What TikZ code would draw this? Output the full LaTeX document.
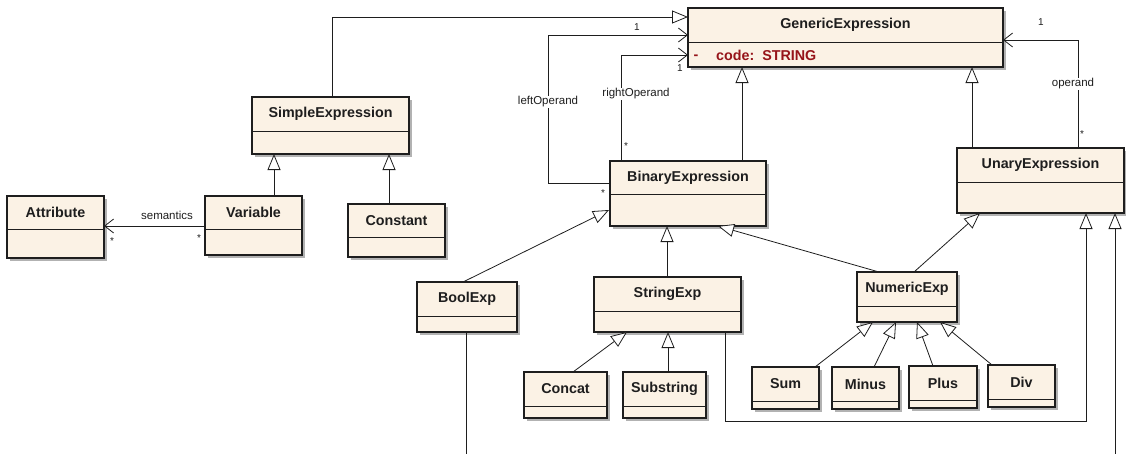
\documentclass[tikz,border=0pt]{standalone}
\usepackage{fontspec}
\setmainfont{Liberation Sans}
\usetikzlibrary{arrows.meta}

\definecolor{classfill}{RGB}{251,242,229}
\definecolor{shadowgray}{RGB}{178,178,178}
\definecolor{attrred}{RGB}{150,20,25}
\definecolor{ink}{RGB}{30,30,30}

\tikzset{
  classbox/.style={draw=ink, fill=classfill, line width=1.1pt, inner sep=0pt, outer sep=0pt},
  classname/.style={font=\fontsize{14.3}{17}\selectfont\bfseries, text=ink, inner sep=0pt},
  attrtext/.style={font=\fontsize{14.3}{17}\selectfont\bfseries, text=attrred, inner sep=0pt},
  divider/.style={draw=ink, line width=0.9pt},
  boxshadow/.style={fill=shadowgray},
  conn/.style={draw=ink, line width=0.8pt},
  gen/.style={conn, -{Triangle[open, length=16pt, width=13pt, fill=white]}},
  assoc/.style={conn, -{Straight Barb[length=9pt, width=14pt]}},
  role/.style={font=\fontsize{11.5}{13}\selectfont, text=ink, inner sep=1pt, fill=white},
  mult/.style={font=\fontsize{10}{11}\selectfont, text=ink, inner sep=0pt},
}

% class box: name, label, left, top, right, divider, bottom
\newcommand\umlclass[7]{%
  \fill[boxshadow] (#3+3,#4+3) rectangle (#5+3,#7+3);
  \node[classbox, anchor=north west, minimum width={#5-#3}, minimum height={#7-#4}] (#1) at (#3,#4) {};
  \draw[divider] (#3,#6) -- (#5,#6);
  \node[classname] (#1-name) at ({(#3+#5)/2},{(#4+#6)/2}) {#2};
}

\begin{document}
\begin{tikzpicture}[x=1pt, y=-1pt]
  \useasboundingbox (0,0) rectangle (1126,453);
  \clip (0,0) rectangle (1126,453);

  % classes
  \umlclass{GE}{GenericExpression}{688}{8}{1003}{42}{67}
  \umlclass{SE}{SimpleExpression}{252}{97}{409}{131}{154}
  \umlclass{Var}{Variable}{205}{196}{302}{229}{255}
  \umlclass{Const}{Constant}{348}{204}{445}{237}{257}
  \umlclass{Attr}{Attribute}{7}{196}{104}{229}{258}
  \umlclass{BE}{BinaryExpression}{610}{161}{766}{194}{226}
  \umlclass{UE}{UnaryExpression}{957}{148}{1124}{182}{213}
  \umlclass{Bool}{BoolExp}{417}{282}{517}{316}{332}
  \umlclass{Str}{StringExp}{594}{277}{741}{311}{332}
  \umlclass{Num}{NumericExp}{857}{272}{957}{306}{322}
  \umlclass{Concat}{Concat}{524}{372}{607}{406}{418}
  \umlclass{Sub}{Substring}{623}{372}{706}{406}{418}
  \umlclass{Sum}{Sum}{752}{367}{819}{401}{409}
  \umlclass{Minus}{Minus}{832}{367}{899}{401}{409}
  \umlclass{Plus}{Plus}{909}{366}{977}{400}{408}
  \umlclass{Div}{Div}{988}{365}{1055}{399}{407}

  % attribute of GenericExpression
  \node[attrtext] (GE-dash) at (696,57) {-};
  \node[attrtext, anchor=west] (GE-code) at (716,55) {code:\ \ STRING};

  % generalizations towards GenericExpression
  \draw[gen] (332,0 |- SE.north) |- (GE.west |- 0,17);
  \draw[gen] (742,0 |- BE.north) -- (742,0 |- GE.south);
  \draw[gen] (972,0 |- UE.north) -- (972,0 |- GE.south);

  % self associations of the expressions
  \draw[assoc] (BE.west |- 0,183) -| (548,35) -- (GE.west |- 0,35);
  \node[role] (lo) at (548,102) {leftOperand};
  \node[mult] (lo-one) at (637,27) {1};
  \node[mult] (lo-many) at (603,193) {*};

  \draw[assoc] (621,0 |- BE.north) |- (GE.west |- 0,55);
  \node[role] (ro) at (636,94) {rightOperand};
  \node[mult] (ro-one) at (680,68) {1};
  \node[mult] (ro-many) at (626,146) {*};

  \draw[assoc] (1078,0 |- UE.north) |- (GE.east |- 0,40);
  \node[role] (op) at (1073,84) {operand};
  \node[mult] (op-one) at (1041,22) {1};
  \node[mult] (op-many) at (1082,134) {*};

  % simple expressions
  \draw[gen] (274,0 |- Var.north) -- (274,0 |- SE.south);
  \draw[gen] (389,0 |- Const.north) -- (389,0 |- SE.south);
  \draw[assoc] (Var.west |- 0,226) -- (Attr.east |- 0,226);
  \node[font=\fontsize{11.5}{13}\selectfont, text=ink, inner sep=0pt] (sem) at (167,215) {semantics};
  \node[mult] (sem-a) at (112,241) {*};
  \node[mult] (sem-v) at (199,238) {*};

  % binary expressions
  \draw[gen] (463,0 |- Bool.north) -- (609,210);
  \draw[gen] (667,0 |- Str.north) -- (667,0 |- BE.south);
  \draw[gen] (879,0 |- Num.north) -- (718,0 |- BE.south);
  \draw[gen] (914,0 |- Num.north) -- (980,0 |- UE.south);

  % string and boolean expressions also specialise UnaryExpression
  \draw[gen] (725,0 |- Str.south) |- (1086,421) -- (1086,0 |- UE.south);
  \draw[gen] (466,0 |- Bool.south) |- (1115,470) -- (1115,0 |- UE.south);

  % string operations
  \draw[gen] (573,0 |- Concat.north) -- (627,0 |- Str.south);
  \draw[gen] (668,0 |- Sub.north) -- (668,0 |- Str.south);

  % numeric operations
  \draw[gen] (815,0 |- Sum.north) -- (873,0 |- Num.south);
  \draw[gen] (874,0 |- Minus.north) -- (896,0 |- Num.south);
  \draw[gen] (933,0 |- Plus.north) -- (917,0 |- Num.south);
  \draw[gen] (992,0 |- Div.north) -- (940,0 |- Num.south);
\end{tikzpicture}
\end{document}
